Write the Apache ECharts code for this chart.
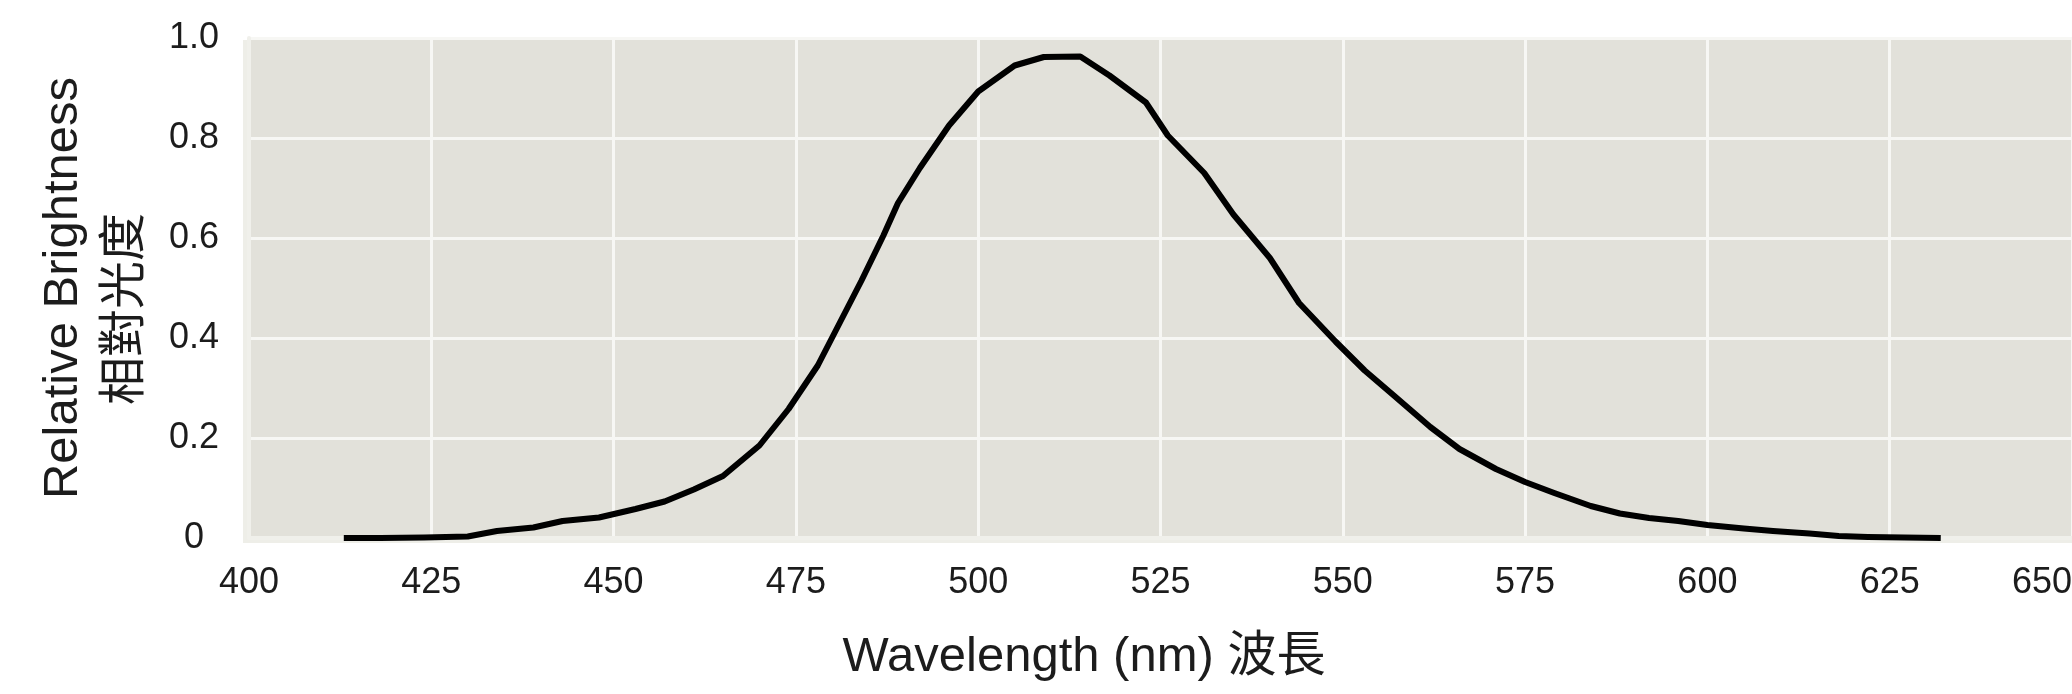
<!DOCTYPE html>
<html>
<head>
<meta charset="utf-8">
<script src="https://cdn.jsdelivr.net/npm/echarts@6/dist/echarts.min.js"></script>
<style>
html,body{margin:0;padding:0;background:#fff;}
#c{width:2072px;height:694px;}
</style>
</head>
<body>
<div id="c"></div>
<script>
// Data
const wavelengths = [413,418,424,430,434,439,443,448,453,457,461,465,470,474,478,481,484,487,489,492,496,500,505,509,514,518,523,526,531,535,540,544,549,553,557,562,566,571,575,579,584,588,592,596,600,605,609,614,618,622,627,632];
const brightness  = [0,0,0.001,0.003,0.014,0.021,0.034,0.041,0.058,0.073,0.097,0.124,0.185,0.258,0.345,0.43,0.515,0.605,0.67,0.74,0.825,0.893,0.945,0.962,0.963,0.925,0.871,0.805,0.73,0.647,0.56,0.47,0.393,0.335,0.285,0.222,0.178,0.138,0.112,0.09,0.064,0.049,0.04,0.034,0.026,0.019,0.014,0.009,0.004,0.002,0.001,0];
const xTickLabels = ['400','425','450','475','500','525','550','575','600','625','650'];
const yTickLabels = ['0','0.2','0.4','0.6','0.8','1.0'];
const xTitle = 'Wavelength (nm) 波長';
const yTitleLatin = 'Relative Brightness';
const yTitleCJK = '相對光度';

const font = "'Liberation Sans', Arial, 'Noto Sans CJK TC', sans-serif";
const textColor = '#1c1c1c';

const chart = echarts.init(document.getElementById('c'), null, {renderer:'canvas'});
chart.setOption({
  animation:false,
  backgroundColor:'#ffffff',
  grid:[
    {left:243, top:40, width:1840, height:503, show:true, backgroundColor:'#eeeee8', borderWidth:0, outerBoundsMode:'none', containLabel:false},
    {left:249, top:38, width:1823, height:500, show:true, backgroundColor:'#e2e1da', borderWidth:0, outerBoundsMode:'none', containLabel:false}
  ],
  xAxis:[
    {gridIndex:0, type:'value', min:0, max:1, show:false},
    {gridIndex:1, type:'value', min:400, max:650, interval:25,
     axisLine:{show:true, lineStyle:{color:'#f0f0eb', width:4}},
     axisTick:{show:false},
     splitLine:{show:true, lineStyle:{color:'#f7f7f4', width:3}},
     axisLabel:{fontSize:36, fontFamily:font, color:textColor, margin:27, alignMaxLabel:'right',
       formatter:function(v){ const i=Math.round((v-400)/25); return xTickLabels[i]!==undefined?xTickLabels[i]:''; }}
    }
  ],
  yAxis:[
    {gridIndex:0, type:'value', min:0, max:1, show:false},
    {gridIndex:1, type:'value', min:0, max:1, interval:0.2,
     axisLine:{show:true, lineStyle:{color:'#f0f0eb', width:4}},
     axisTick:{show:false},
     splitLine:{show:true, lineStyle:{color:'#f7f7f4', width:3}},
     axisLabel:{fontSize:36, fontFamily:font, color:textColor, margin:55, align:'center',
       formatter:function(v){ const i=Math.round(v/0.2); return yTickLabels[i]!==undefined?yTickLabels[i]:''; }}
    }
  ],
  series:[{
    type:'line', xAxisIndex:1, yAxisIndex:1,
    data: wavelengths.map((w,i)=>[w, brightness[i]]),
    showSymbol:false, symbol:'none', smooth:false, clip:false,
    lineStyle:{color:'#000000', width:6, join:'round', cap:'butt'},
    z:5
  }],
  graphic:[
    {type:'text', x:1084, y:657, z:10,
     style:{text:xTitle, font:"49px " + font, fill:textColor, textAlign:'center', textVerticalAlign:'middle'}},
    {type:'text', x:63, y:288, rotation:Math.PI/2, z:10,
     style:{text:yTitleLatin, font:"49px " + font, fill:textColor, textAlign:'center', textVerticalAlign:'middle'}},
    {type:'text', x:121, y:309, rotation:Math.PI/2, z:10,
     style:{text:yTitleCJK, font:"48px 'Noto Sans CJK TC', sans-serif", fill:textColor, textAlign:'center', textVerticalAlign:'middle'}}
  ]
});
</script>
</body>
</html>
